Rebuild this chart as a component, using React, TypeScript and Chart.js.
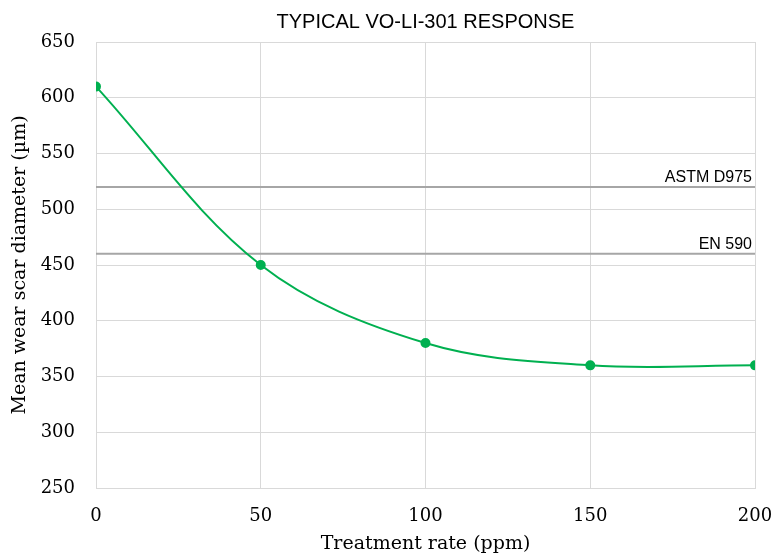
import React, { useEffect, useRef } from "react";
import { Chart, registerables } from "chart.js";

Chart.register(...registerables);

const title = "TYPICAL VO-LI-301 RESPONSE";
const xTitle = "Treatment rate (ppm)";
const yTitle = "Mean wear scar diameter (µm)";
const treatmentRates = [0, 50, 100, 150, 200];
const scarDiameters = [610, 450, 380, 360, 360];
const refLabels = ["ASTM D975", "EN 590"];
const refValues = [520, 460];
const xRange = [0, 200];
const yRange = [250, 650];

const SERIF = "'DejaVu Serif', serif";
const SANS = "'Liberation Sans', 'Noto Sans', sans-serif";

export default function App() {
  const ref = useRef<HTMLCanvasElement | null>(null);
  useEffect(() => {
    document.body.style.margin = "0";
    const canvas = ref.current;
    if (!canvas) return;
    const refSets = refValues.map((v, i) => ({
      label: refLabels[i],
      data: xRange.map((x) => ({ x, y: v })),
      borderColor: "#a6a6a6",
      borderWidth: 2,
      pointRadius: 0,
      tension: 0,
      order: 2,
    }));
    const textPlugin = {
      id: "texts",
      afterDatasetsDraw(chart: any) {
        const ctx = chart.ctx;
        const a = chart.chartArea;
        ctx.save();
        ctx.fillStyle = "#000";
        ctx.font = `16px ${SANS}`;
        ctx.textAlign = "right";
        ctx.textBaseline = "alphabetic";
        refValues.forEach((v, i) => {
          const y = chart.scales.y.getPixelForValue(v);
          ctx.fillText(refLabels[i], a.right - 3, y - 5);
        });
        ctx.font = `20px ${SANS}`;
        ctx.textAlign = "center";
        ctx.textBaseline = "middle";
        ctx.fillText(title, (a.left + a.right) / 2, 22);
        ctx.font = `19px ${SERIF}`;
        ctx.fillText(xTitle, (a.left + a.right) / 2, 544);
        ctx.translate(20, (a.top + a.bottom) / 2);
        ctx.rotate(-Math.PI / 2);
        ctx.fillText(yTitle, 0, 0);
        ctx.restore();
      },
    };
    const chart = new Chart(canvas, {
      type: "line",
      data: {
        datasets: [
          {
            label: "Response",
            data: treatmentRates.map((x, i) => ({ x, y: scarDiameters[i] })),
            borderColor: "#00b050",
            backgroundColor: "#00b050",
            borderWidth: 2,
            pointRadius: 4,
            pointHoverRadius: 4,
            tension: 0.35,
            order: 1,
          },
          ...refSets,
        ],
      },
      options: {
        responsive: false,
        animation: false,
        devicePixelRatio: 1,
        layout: { padding: { left: 0, right: 18, top: 42, bottom: 0 } },
        plugins: { legend: { display: false }, title: { display: false }, tooltip: { enabled: false } },
        scales: {
          x: {
            type: "linear",
            min: xRange[0],
            max: xRange[1],
            ticks: { stepSize: 50, color: "#000", font: { family: SERIF, size: 18 }, padding: 18, maxRotation: 0 },
            grid: { color: "#d9d9d9", drawTicks: false },
            border: { color: "#d9d9d9" },
            afterFit(s: any) { s.height = 66; s.paddingLeft = 0; s.paddingRight = 0; },
          },
          y: {
            min: yRange[0],
            max: yRange[1],
            ticks: { stepSize: 50, color: "#000", font: { family: SERIF, size: 18 }, padding: 21 },
            grid: { color: "#d9d9d9", drawTicks: false },
            border: { color: "#d9d9d9" },
            afterFit(s: any) { s.width = 96; s.paddingTop = 0; s.paddingBottom = 0; },
          },
        },
      },
      plugins: [textPlugin],
    });
    return () => chart.destroy();
  }, []);
  return <canvas ref={ref} width={773} height={554} style={{ display: "block" }} />;
}
